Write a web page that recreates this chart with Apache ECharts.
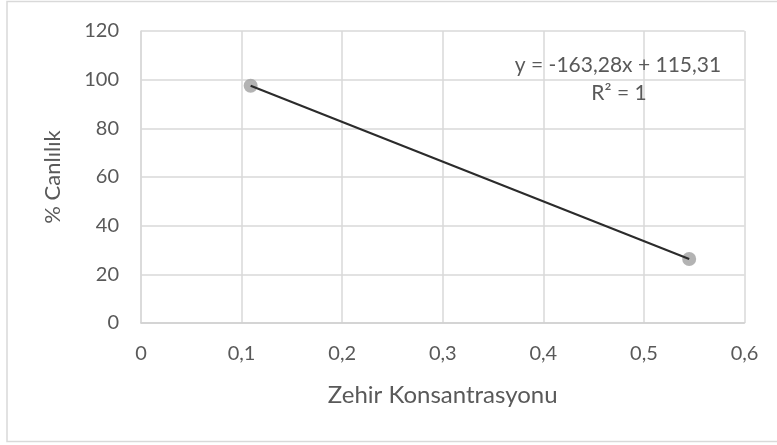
<!DOCTYPE html>
<html>
<head>
<meta charset="utf-8">
<script src="https://cdn.jsdelivr.net/npm/echarts@6/dist/echarts.min.js"></script>
<style>html,body{margin:0;padding:0;background:#fff}#c{width:777px;height:445px}</style>
</head>
<body>
<div id="c"></div>
<script>
var xValues = [0.109, 0.545];
var yValues = [97.5, 26.3];
var trendX = [0.109, 0.545];
var trendY = [97.51, 26.32];
var equationText = 'y = -163,28x + 115,31';
var r2Text = 'R² = 1';
var xAxisTitle = 'Zehir Konsantrasyonu';
var yAxisTitle = '% Canlılık';

var FONT = 'Lato';
var chart = echarts.init(document.getElementById('c'), null, {renderer: 'canvas'});
var pts = xValues.map(function (x, i) { return [x, yValues[i]]; });
var trend = trendX.map(function (x, i) { return [x, trendY[i]]; });
function comma(v) { return String(v).replace('.', ','); }

chart.setOption({
  animation: false,
  backgroundColor: '#fff',
  grid: {left: 141, right: 32.5, top: 31, bottom: 122},
  xAxis: {
    type: 'value', min: 0, max: 0.6, interval: 0.1,
    name: xAxisTitle, nameLocation: 'middle', nameGap: 60,
    nameTextStyle: {color: '#595959', fontSize: 24, fontFamily: FONT},
    axisLine: {show: true, lineStyle: {color: '#d0d0d0', width: 1.5}},
    axisTick: {show: false},
    axisLabel: {color: '#595959', fontSize: 20, fontFamily: FONT, margin: 21, formatter: function (v) { return comma(+v.toFixed(1)); }},
    splitLine: {show: true, lineStyle: {color: '#d9d9d9', width: 1.5}}
  },
  yAxis: {
    type: 'value', min: 0, max: 120, interval: 20,
    name: yAxisTitle, nameLocation: 'middle', nameGap: 77, nameRotate: 90,
    nameTextStyle: {color: '#595959', fontSize: 22, fontFamily: FONT},
    axisLine: {show: true, lineStyle: {color: '#d9d9d9', width: 1.5}},
    axisTick: {show: false},
    axisLabel: {color: '#595959', fontSize: 20, fontFamily: FONT, margin: 22},
    splitLine: {show: true, lineStyle: {color: '#d9d9d9', width: 1.5}}
  },
  series: [
    {type: 'scatter', data: pts, symbol: 'circle', symbolSize: 14, itemStyle: {color: '#a0a0a0'}, z: 2},
    {type: 'line', data: trend, showSymbol: false, symbol: 'none', lineStyle: {color: '#2b2b2b', width: 2}, z: 3}
  ],
  graphic: [
    {type: 'rect', shape: {x: 7, y: 1.5, width: 780, height: 440}, style: {fill: 'none', stroke: '#d9d9d9', lineWidth: 1.5}, silent: true, z: -1},
    {type: 'text', x: 618, y: 65, style: {text: equationText, fill: '#595959', font: '21px ' + FONT, textAlign: 'center', textVerticalAlign: 'middle'}, z: 10},
    {type: 'text', x: 619, y: 93, style: {text: r2Text, fill: '#595959', font: '21px ' + FONT, textAlign: 'center', textVerticalAlign: 'middle'}, z: 10}
  ]
});
</script>
</body>
</html>
